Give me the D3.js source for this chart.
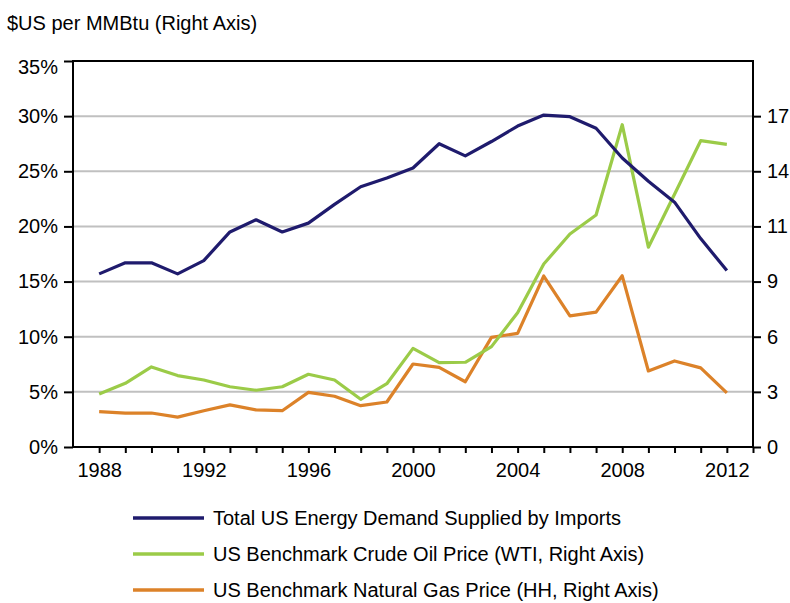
<!DOCTYPE html>
<html>
<head>
<meta charset="utf-8">
<script src="https://cdn.jsdelivr.net/npm/d3@7"></script>
<style>
  body { margin: 0; background: #fff; }
  svg { display: block; font-family: "Liberation Sans", Arial, sans-serif; }
  .axis text { font-size: 20px; fill: #000; }
  .axis line { stroke: #000; stroke-width: 2; }
</style>
</head>
<body>
<div id="chart"></div>
<script>
// data
let years = d3.range(1988, 2013);
let importsShare = [15.7, 16.7, 16.7, 15.7, 16.9, 19.5, 20.6, 19.5, 20.3, 22.0, 23.6, 24.4, 25.3,
  27.5, 26.4, 27.7, 29.1, 30.1, 29.95, 28.9, 26.2, 24.1, 22.2, 18.9, 16.0];
let oilPrice = [2.75, 3.3, 4.15, 3.7, 3.47, 3.12, 2.94, 3.12, 3.77, 3.47, 2.47, 3.28, 5.11,
  4.37, 4.39, 5.2, 6.96, 9.48, 11.04, 12.02, 16.7, 10.35, 13.1, 15.87, 15.68];
let gasPrice = [1.83, 1.76, 1.76, 1.55, 1.88, 2.18, 1.92, 1.88, 2.83, 2.63, 2.14, 2.33, 4.3,
  4.13, 3.38, 5.68, 5.89, 8.86, 6.79, 6.99, 8.87, 3.94, 4.46, 4.1, 2.8];
let leftTicks = [0, 5, 10, 15, 20, 25, 30, 35];
let yearLabels = [1988, 1992, 1996, 2000, 2004, 2008, 2012];

let seriesNames = [
  "Total US Energy Demand Supplied by Imports",
  "US Benchmark Crude Oil Price (WTI, Right Axis)",
  "US Benchmark Natural Gas Price (HH, Right Axis)"
];
let colors = ["#1f1b6d", "#9bcb48", "#dc8229"];

let svgWidth = 790;
let svgHeight = 603;
let margin = { top: 61, right: 37, bottom: 156, left: 73 };
let width = svgWidth - margin.left - margin.right;
let height = svgHeight - margin.top - margin.bottom;

let svg = d3.select("#chart")
  .append("svg")
  .attr("width", svgWidth)
  .attr("height", svgHeight);

let chartGroup = svg.append("g")
  .attr("transform", `translate(${margin.left}, ${margin.top})`);

// scales
let x = d3.scaleLinear().domain([1987, 2013]).range([0, width]);
let yLeft = d3.scaleLinear().domain([0, 35]).range([height, 0]);
let yRight = d3.scaleLinear().domain([0, 20]).range([height, 0]);

// gridlines
chartGroup.append("g")
  .selectAll("line")
  .data(leftTicks.filter(d => d > 0 && d < 35))
  .enter()
  .append("line")
    .attr("x1", 0)
    .attr("x2", width)
    .attr("y1", d => yLeft(d))
    .attr("y2", d => yLeft(d))
    .attr("stroke", "#c0c0c0")
    .attr("stroke-width", 2);

// axes
let leftAxis = d3.axisLeft(yLeft)
  .tickValues(leftTicks)
  .tickFormat(d => d + "%")
  .tickSize(9)
  .tickPadding(6);
let gl = chartGroup.append("g").attr("class", "axis").call(leftAxis);
gl.select(".domain").remove();
gl.selectAll(".tick").filter(d => d === 35).select("text").attr("dy", "0.62em");

let rightAxis = d3.axisRight(yRight)
  .tickValues(d3.range(0, 7).map(i => i * 20 / 7))
  .tickFormat(d3.format(".0f"))
  .tickSize(8)
  .tickPadding(6);
let gr = chartGroup.append("g")
  .attr("class", "axis")
  .attr("transform", `translate(${width}, 0)`)
  .call(rightAxis);
gr.select(".domain").remove();

let bottomAxis = d3.axisBottom(x)
  .tickValues(d3.range(1988, 2014))
  .tickFormat(d => yearLabels.includes(d) ? d : "")
  .tickSize(6)
  .tickPadding(10);
let gb = chartGroup.append("g")
  .attr("class", "axis")
  .attr("transform", `translate(0, ${height})`)
  .call(bottomAxis);
gb.select(".domain").remove();

// frame
chartGroup.append("rect")
  .attr("x", 0)
  .attr("y", 0)
  .attr("width", width)
  .attr("height", height)
  .attr("fill", "none")
  .attr("stroke", "#000")
  .attr("stroke-width", 2);

// lines
let lineLeft = d3.line()
  .x((d, i) => x(years[i]))
  .y(d => yLeft(d));
let lineRight = d3.line()
  .x((d, i) => x(years[i]))
  .y(d => yRight(d));

let series = [
  { values: importsShare, line: lineLeft },
  { values: oilPrice, line: lineRight },
  { values: gasPrice, line: lineRight }
];

// draw gas first, then oil, then imports on top
[2, 1, 0].forEach(k => {
  chartGroup.append("path")
    .attr("d", series[k].line(series[k].values))
    .attr("fill", "none")
    .attr("stroke", colors[k])
    .attr("stroke-width", 3.2)
    .attr("stroke-linejoin", "round");
});

// axis title
svg.append("text")
  .attr("x", 7)
  .attr("y", 30)
  .attr("font-size", 20)
  .text("$US per MMBtu (Right Axis)");

// legend
let legend = svg.append("g");
let rowY = [518, 554, 590];
seriesNames.forEach((name, i) => {
  legend.append("line")
    .attr("x1", 133)
    .attr("x2", 204)
    .attr("y1", rowY[i])
    .attr("y2", rowY[i])
    .attr("stroke", colors[i])
    .attr("stroke-width", 3.5);
  legend.append("text")
    .attr("x", 213)
    .attr("y", rowY[i] + 7)
    .attr("font-size", 20)
    .text(name);
});
</script>
</body>
</html>
